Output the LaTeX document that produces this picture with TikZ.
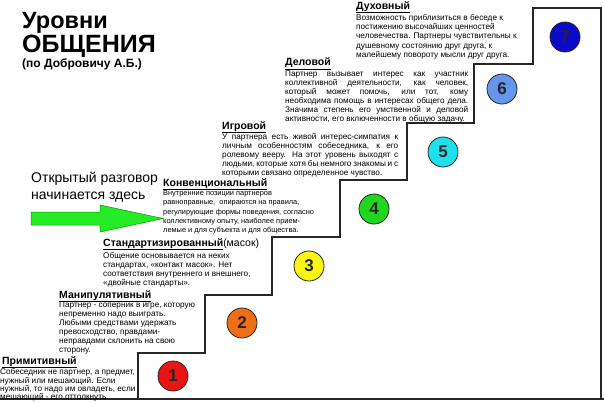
\documentclass[tikz,border=0pt]{standalone}
\usepackage{fontspec}
\setmainfont{Liberation Sans}
\definecolor{cA}{RGB}{235,20,20}
\definecolor{cB}{RGB}{240,110,20}
\definecolor{cC}{RGB}{250,245,20}
\definecolor{cD}{RGB}{30,215,30}
\definecolor{cE}{RGB}{30,225,235}
\definecolor{cF}{RGB}{100,150,235}
\definecolor{cG}{RGB}{10,10,200}
\definecolor{arrowfill}{RGB}{40,235,40}
\definecolor{arrowline}{RGB}{0,150,0}
\tikzset{
  stair/.style={line width=1.3pt, draw=black!85, line join=miter},
  lvl/.style={circle, draw=black!85, line width=0.8pt, minimum size=30pt, inner sep=0pt,
    font=\fontsize{17}{17}\selectfont\bfseries, text=black!85},
  head/.style={anchor=base west, inner sep=0pt, font=\fontsize{10.5}{12}\selectfont\bfseries},
  body/.style={anchor=north west, inner sep=0pt, align=left},
  jbody/.style={anchor=north west, inner sep=0pt, align=justify},
  ttl/.style={anchor=base west, inner sep=0pt},
}
\newcommand{\bodyfont}[1]{\fontsize{8.2}{#1}\selectfont}
\begin{document}
\hyphenpenalty=10000
\exhyphenpenalty=10000
\begin{tikzpicture}[x=1pt,y=-1pt]
\useasboundingbox (0,0) rectangle (604,402);
\fill[white] (0,0) rectangle (604,402);
% staircase
\draw[stair] (0,399) -- (604,399);
\draw[stair] (138,399) -- (138,353) -- (205,353) -- (205,295) -- (272,295) -- (272,237)
  -- (340,237) -- (340,180) -- (407,180) -- (407,123) -- (474,123) -- (474,64)
  -- (533,64) -- (533,8) -- (601,8) -- (601,399);
% circles
\node[lvl, fill=cA] (c1) at (173,376) {1};
\node[lvl, fill=cB] (c2) at (242,323) {2};
\node[lvl, fill=cC] (c3) at (309,266) {3};
\node[lvl, fill=cD] (c4) at (374,209) {4};
\node[lvl, fill=cE] (c5) at (443,152) {5};
\node[lvl, fill=cF] (c6) at (502,89) {6};
\node[lvl, fill=cG] (c7) at (565,37) {7};
% title
\node[ttl, font=\fontsize{23.5}{24}\selectfont\bfseries] (t1) at (22,28) {Уровни};
\node[ttl, font=\fontsize{25}{25}\selectfont\bfseries] (t2) at (22,52) {ОБЩЕНИЯ};
\node[ttl, font=\fontsize{12}{12}\selectfont\bfseries] (t3) at (22,67) {(по Добровичу А.Б.)};
% open conversation
\node[ttl, font=\fontsize{14}{14}\selectfont] (o1) at (31,182) {Открытый разговор};
\node[ttl, font=\fontsize{14}{14}\selectfont] (o2) at (31,199) {начинается здесь};
\draw[fill=arrowfill, draw=arrowline, line width=0.5pt] (31,212) -- (100,212) -- (100,205)
  -- (163,218.5) -- (100,232) -- (100,225) -- (31,225) -- cycle;
% level 7
\node[head] (h7) at (356,9) {\underline{Духовный}};
\node[body, font=\bodyfont{9.3}] (b7) at (356,14) {Возможность приблизиться в беседе к\\
постижению высочайших ценностей\\
человечества. Партнеры чувствительны к\\
душевному состоянию друг друга, к\\
малейшему повороту мысли друг друга.};
% level 6
\node[head] (h6) at (285,65.5) {\underline{Деловой}};
\node[jbody, text width=183pt, font=\bodyfont{8.9}] (b6) at (285,71) {Партнер вызывает интерес как участник\linebreak
коллективной деятельности, как человек,\linebreak
который может помочь, или тот, кому\linebreak
необходима помощь в интересах общего дела.\linebreak
Значима степень его умственной и деловой\linebreak
активности, его включенности в общую задачу.};
% level 5
\node[head] (h5) at (222,129) {\underline{Игровой}};
\node[jbody, text width=176pt, font=\bodyfont{9.0}] (b5) at (222,133) {У партнера есть живой интерес-симпатия к\linebreak
личным особенностям собеседника, к его\linebreak
ролевому вееру. На этот уровень выходят с\linebreak
людьми, которые хотя бы немного знакомы и с\linebreak
которыми связано определенное чувство.};
% level 4
\node[head] (h4) at (163,186) {\underline{Конвенциональный}};
\node[body, font=\fontsize{7.4}{9.2}\selectfont] (b4) at (163,190.5) {Внутренние позиции партнеров\\
равноправные, \ опираются на правила,\\
регулирующие формы поведения, согласно\\
коллективному опыту, наиболее прием-\\
лемые и для субъекта и для общества.};
% level 3
\node[head] (h3) at (103,246) {\underline{Стандартизированный}\mdseries(масок)};
\node[body, font=\bodyfont{9}] (b3) at (103,252) {Общение основывается на неких\\
стандартах, «контакт масок». Нет\\
соответствия внутреннего и внешнего,\\
«двойные стандарты».};
% level 2
\node[head] (h2) at (59,298) {\underline{Манипулятивный}};
\node[body, font=\bodyfont{9.0}] (b2) at (59,302) {Партнер - соперник в игре, которую\\
непременно надо выиграть.\\
Любыми средствами удержать\\
превосходство, правдами-\\
неправдами склонить на свою\\
сторону.};
% level 1
\node[head] (h1) at (2,364) {\underline{Примитивный}};
\node[body, font=\bodyfont{8.3}] (b1) at (0,368.5) {Собеседник не партнер, а предмет,\\
нужный или мешающий. Если\\
нужный, то надо им овладеть, если\\
мешающий - его оттолкнуть.};
\end{tikzpicture}
\end{document}
